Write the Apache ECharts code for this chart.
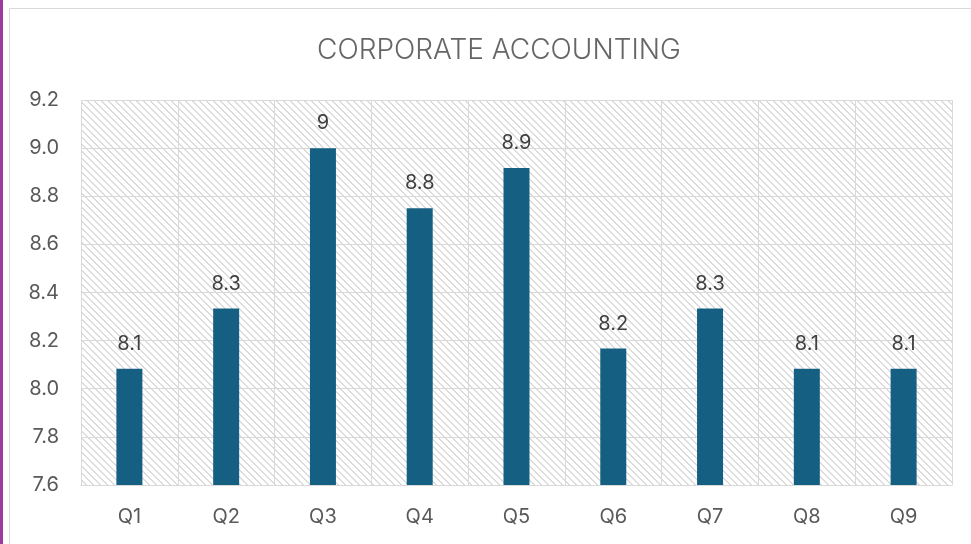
<!DOCTYPE html>
<html>
<head>
<meta charset="utf-8">
<script src="https://cdn.jsdelivr.net/npm/echarts@6/dist/echarts.min.js"></script>
<style>
html, body { margin: 0; padding: 0; background: #fff; }
#main { width: 971px; height: 544px; }
</style>
</head>
<body>
<div id="main"></div>
<script>
// categories and values
var categories = ['Q1', 'Q2', 'Q3', 'Q4', 'Q5', 'Q6', 'Q7', 'Q8', 'Q9'];
var scores = [8.083, 8.333, 9.0, 8.75, 8.917, 8.167, 8.333, 8.083, 8.083];
var yTicks = { min: 7.6, max: 9.2, step: 0.2 };

// diagonal hatch for the plot area
function hatch() {
	var n = 7;
	var c = document.createElement('canvas');
	c.width = n;
	c.height = n;
	var ctx = c.getContext('2d');
	ctx.fillStyle = '#fff';
	ctx.fillRect(0, 0, n, n);
	ctx.fillStyle = '#dcdcdc';
	for (var i = 0; i < n; i++) {
		ctx.fillRect(i, i, 1, 1);
		ctx.fillRect((i + 1) % n, i, 1, 1);
	}
	return c;
}

var font = 'Inter, Liberation Sans, sans-serif';
var chart = echarts.init(document.getElementById('main'));

chart.setOption({
	animation: false,
	title: {
		text: 'CORPORATE ACCOUNTING',
		left: 312,
		top: 32,
		textStyle: { color: '#666666', fontSize: 28, fontWeight: 300, fontFamily: font }
	},
	graphic: [
		{ type: 'rect', shape: { x: 9.5, y: 8.5, width: 980, height: 560 }, style: { fill: 'none', stroke: '#d9d9d9', lineWidth: 1 }, z: -1 },
		{ type: 'rect', shape: { x: 0, y: 0, width: 3, height: 544 }, style: { fill: '#9c3aa0' } }
	],
	grid: {
		left: 81, right: 19, top: 100, bottom: 59,
		show: true,
		borderWidth: 0,
		backgroundColor: { image: hatch(), repeat: 'repeat' }
	},
	xAxis: {
		type: 'category',
		data: categories,
		axisLine: { lineStyle: { color: '#d9d9d9', width: 1 } },
		axisTick: { show: false },
		splitLine: { show: true, lineStyle: { color: '#d9d9d9', width: 1 } },
		axisLabel: { color: '#595959', fontSize: 20, fontFamily: font, margin: 22 }
	},
	yAxis: {
		type: 'value',
		min: yTicks.min,
		max: yTicks.max,
		interval: yTicks.step,
		axisLine: { show: false },
		axisTick: { show: false },
		splitLine: { lineStyle: { color: '#d9d9d9', width: 1 } },
		axisLabel: {
			color: '#595959', fontSize: 20, fontFamily: font, margin: 22,
			formatter: function (v) { return v.toFixed(1); }
		}
	},
	series: [{
		type: 'bar',
		data: scores,
		barWidth: 26,
		itemStyle: { color: '#156082' },
		label: {
			show: true,
			position: 'top',
			distance: 15,
			color: '#404040',
			fontSize: 20,
			fontFamily: font,
			formatter: function (p) { return String(Number(p.value.toFixed(1))); }
		}
	}]
});
</script>
</body>
</html>
